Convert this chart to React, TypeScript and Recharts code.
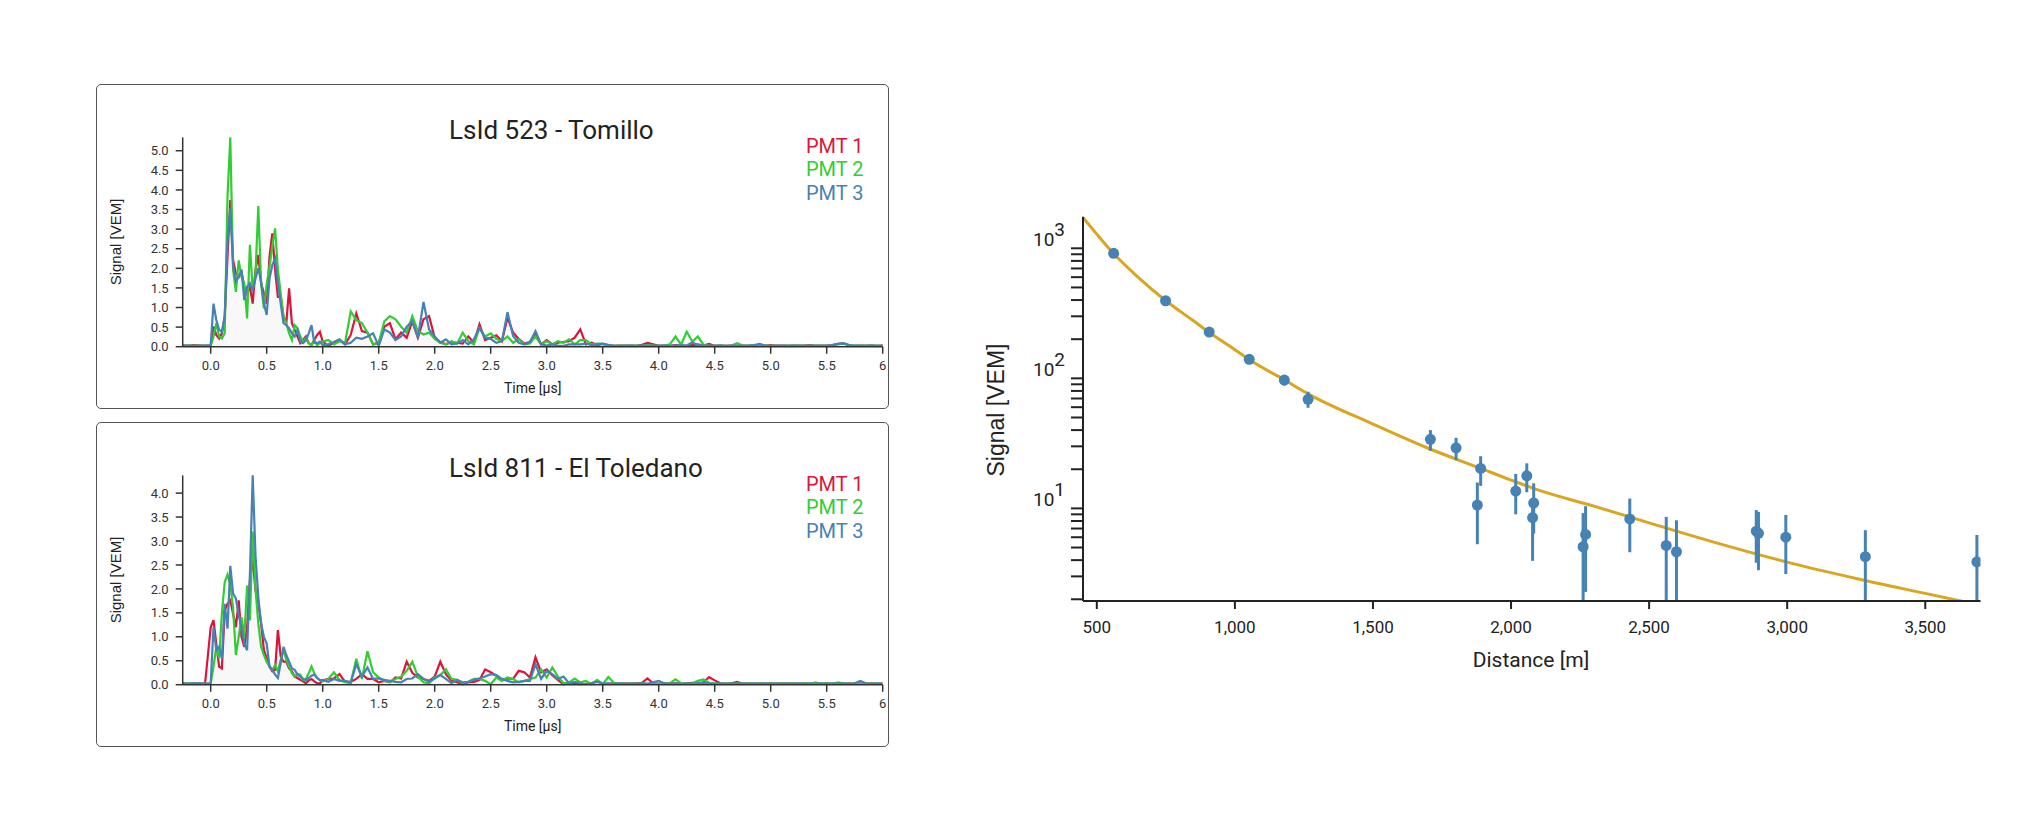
import { ComposedChart, Area, Line, Scatter, ErrorBar, XAxis, YAxis } from 'recharts';

// Colours of the three PMTs and of the LDF fit
const PMT_COLORS = ['#dc143c', '#32cd32', '#4682b4'];
const PMT_NAMES = ['PMT 1', 'PMT 2', 'PMT 3'];
const FIT_COLOR = '#daa520';
const POINT_COLOR = '#4682b4';

// Trace sample times [µs]
const preTimes = [-0.25, -0.2, -0.15, -0.1, -0.05, 0];
const fastTimes = [
  0.025, 0.05, 0.075, 0.1, 0.125, 0.15, 0.175, 0.2, 0.225, 0.25,
  0.275, 0.3, 0.325, 0.35, 0.375, 0.4, 0.425, 0.45, 0.475, 0.5,
  0.525, 0.55, 0.575, 0.6, 0.625, 0.65, 0.675, 0.7, 0.725, 0.75,
  0.775, 0.8, 0.825, 0.85, 0.875, 0.9, 0.925, 0.95, 0.975, 1.0,
];
const slowTimes = [
  1.05, 1.1, 1.15, 1.2, 1.25, 1.3, 1.35, 1.4, 1.45, 1.5,
  1.55, 1.6, 1.65, 1.7, 1.75, 1.8, 1.85, 1.9, 1.95, 2.0,
  2.05, 2.1, 2.15, 2.2, 2.25, 2.3, 2.35, 2.4, 2.45, 2.5,
  2.55, 2.6, 2.65, 2.7, 2.75, 2.8, 2.85, 2.9, 2.95, 3.0,
  3.05, 3.1, 3.15, 3.2, 3.25, 3.3, 3.35, 3.4, 3.45, 3.5,
];
const tailTimes = [
  3.55, 3.6, 3.65, 3.7, 3.75, 3.8, 3.85, 3.9, 3.95, 4.0,
  4.05, 4.1, 4.15, 4.2, 4.25, 4.3, 4.35, 4.4, 4.45, 4.5,
  4.55, 4.6, 4.65, 4.7, 4.75, 4.8, 4.85, 4.9, 4.95, 5.0,
  5.05, 5.1, 5.15, 5.2, 5.25, 5.3, 5.35, 5.4, 5.45, 5.5,
  5.55, 5.6, 5.65, 5.7, 5.75, 5.8, 5.85, 5.9, 5.95, 6.0,
];
const traceTimes = [...preTimes, ...fastTimes, ...slowTimes, ...tailTimes];

const timeTicks = [0, 0.5, 1, 1.5, 2, 2.5, 3, 3.5, 4, 4.5, 5, 5.5, 6];
const tomilloTicks = [0, 0.5, 1, 1.5, 2, 2.5, 3, 3.5, 4, 4.5, 5];
const toledanoTicks = [0, 0.5, 1, 1.5, 2, 2.5, 3, 3.5, 4];

// LsId 523 - Tomillo, signal [VEM]
const tomilloPmt1 = [
  0.03, 0.02, 0.04, 0.03, 0.02, 0.02,
  0.51, 0.3, 0.21, 0.34, 0.77, 2.3, 3.74, 2.2, 1.87, 1.78,
  1.91, 1.53, 1.36, 1.53, 1.1, 1.96, 2.34, 1.62, 1.36, 1.1,
  2.3, 2.89, 1.96, 1.27, 1.27, 0.77, 0.6, 1.49, 0.6, 0.43,
  0.26, 0.09, 0.17, 0.26, 0.09, 0.04, 0.17, 0.3, 0.38, 0.13,
  0.02, 0.1, 0.17, 0.06, 0.3, 0.85, 0.4, 0.36, 0.06, 0.1,
  0.51, 0.6, 0.19, 0.36, 0.23, 0.65, 0.23, 0.7, 0.78, 0.23,
  0.12, 0.06, 0.12, 0.1, 0.08, 0.26, 0.1, 0.57, 0.17, 0.23,
  0.29, 0.14, 0.74, 0.36, 0.2, 0.08, 0.12, 0.31, 0.06, 0.17,
  0.06, 0.1, 0.12, 0.14, 0.23, 0.44, 0.06, 0.1, 0.04, 0.07,
  0.03, 0.02, 0.03, 0.02, 0.03, 0.02, 0.05, 0.1, 0.06, 0.02,
  0.03, 0.02, 0.04, 0.03, 0.02, 0.04, 0.06, 0.03, 0.07, 0.02,
  0.03, 0.02, 0.03, 0.02, 0.03, 0.02, 0.03, 0.02, 0.03, 0.04,
  0.02, 0.03, 0.02, 0.03, 0.02, 0.03, 0.04, 0.02, 0.03, 0.02,
  0.04, 0.07, 0.08, 0.03, 0.02, 0.03, 0.02, 0.03, 0.02, 0.03,
];
const tomilloPmt2 = [
  0.02, 0.03, 0.02, 0.03, 0.02, 0.02,
  0.26, 0.6, 0.26, 0.21, 0.34, 3.83, 5.34, 1.96, 1.4, 2.2,
  1.78, 1.62, 0.72, 2.6, 1.45, 1.87, 3.59, 1.62, 0.98, 1.6,
  2.04, 2.55, 3.02, 1.96, 1.36, 0.77, 0.6, 0.34, 0.17, 0.55,
  0.47, 0.26, 0.13, 0.21, 0.09, 0.04, 0.17, 0.04, 0.09, 0.13,
  0.17, 0.06, 0.14, 0.1, 0.9, 0.68, 0.6, 0.36, 0.06, 0.1,
  0.65, 0.78, 0.7, 0.51, 0.36, 0.78, 0.4, 0.31, 0.36, 0.2,
  0.1, 0.06, 0.14, 0.08, 0.36, 0.14, 0.06, 0.48, 0.26, 0.34,
  0.2, 0.14, 0.26, 0.1, 0.19, 0.06, 0.08, 0.26, 0.06, 0.14,
  0.06, 0.14, 0.1, 0.19, 0.06, 0.17, 0.17, 0.06, 0.08, 0.07,
  0.03, 0.02, 0.03, 0.03, 0.02, 0.03, 0.02, 0.04, 0.03, 0.02,
  0.03, 0.06, 0.26, 0.05, 0.38, 0.13, 0.26, 0.05, 0.03, 0.02,
  0.03, 0.02, 0.03, 0.09, 0.03, 0.02, 0.03, 0.02, 0.03, 0.02,
  0.03, 0.02, 0.03, 0.02, 0.03, 0.02, 0.03, 0.02, 0.03, 0.02,
  0.03, 0.06, 0.08, 0.04, 0.02, 0.03, 0.02, 0.03, 0.02, 0.03,
];
const tomilloPmt3 = [
  0.03, 0.03, 0.02, 0.03, 0.03, 0.04,
  1.1, 0.68, 0.43, 0.38, 0.77, 2.7, 3.53, 2.04, 1.66, 1.78,
  1.96, 1.19, 1.53, 1.62, 1.45, 1.74, 2.0, 1.66, 1.1, 0.81,
  1.74, 2.08, 2.25, 1.62, 1.1, 0.6, 0.55, 0.47, 0.34, 0.26,
  0.43, 0.13, 0.09, 0.17, 0.34, 0.55, 0.1, 0.09, 0.13, 0.04,
  0.06, 0.12, 0.19, 0.06, 0.1, 0.23, 0.2, 0.26, 0.34, 0.02,
  0.44, 0.36, 0.17, 0.26, 0.51, 0.65, 0.23, 1.14, 0.44, 0.26,
  0.1, 0.19, 0.06, 0.08, 0.17, 0.06, 0.19, 0.48, 0.23, 0.2,
  0.1, 0.14, 0.88, 0.27, 0.1, 0.06, 0.12, 0.4, 0.06, 0.03,
  0.06, 0.03, 0.02, 0.06, 0.06, 0.06, 0.08, 0.04, 0.06, 0.08,
  0.05, 0.03, 0.02, 0.03, 0.03, 0.02, 0.03, 0.03, 0.02, 0.03,
  0.03, 0.02, 0.03, 0.04, 0.03, 0.11, 0.04, 0.03, 0.02, 0.03,
  0.03, 0.02, 0.03, 0.03, 0.02, 0.03, 0.04, 0.07, 0.03, 0.02,
  0.03, 0.03, 0.02, 0.03, 0.03, 0.02, 0.03, 0.03, 0.02, 0.03,
  0.04, 0.07, 0.09, 0.04, 0.03, 0.02, 0.03, 0.03, 0.02, 0.03,
];

// LsId 811 - El Toledano, signal [VEM]
const toledanoPmt1 = [
  0.03, 0.02, 0.03, 0.02, 0.03, 1.2,
  1.35, 0.86, 0.38, 0.34, 1.55, 1.69, 1.76, 1.48, 1.2, 1.76,
  1.0, 0.79, 1.2, 2.17, 2.62, 1.97, 1.69, 1.28, 0.72, 0.55,
  0.38, 0.28, 0.31, 1.14, 0.59, 0.48, 0.48, 0.34, 0.28, 0.17,
  0.14, 0.1, 0.07, 0.03, 0.09, 0.12, 0.07, 0.03, 0.03, 0.09,
  0.12, 0.13, 0.22, 0.06, 0.06, 0.12, 0.22, 0.12, 0.12, 0.05,
  0.08, 0.05, 0.15, 0.13, 0.48, 0.25, 0.15, 0.12, 0.08, 0.17,
  0.48, 0.22, 0.08, 0.05, 0.01, 0.05, 0.06, 0.1, 0.32, 0.26,
  0.19, 0.1, 0.13, 0.12, 0.29, 0.26, 0.15, 0.57, 0.26, 0.32,
  0.2, 0.1, 0.01, 0.03, 0.03, 0.01, 0.02, 0.03, 0.08, 0.01,
  0.02, 0.03, 0.02, 0.03, 0.02, 0.03, 0.04, 0.13, 0.03, 0.02,
  0.03, 0.02, 0.03, 0.02, 0.03, 0.04, 0.03, 0.05, 0.16, 0.09,
  0.03, 0.02, 0.03, 0.06, 0.02, 0.03, 0.02, 0.03, 0.02, 0.03,
  0.02, 0.03, 0.02, 0.03, 0.02, 0.03, 0.02, 0.03, 0.02, 0.03,
  0.02, 0.03, 0.02, 0.03, 0.02, 0.03, 0.02, 0.03, 0.02, 0.03,
];
const toledanoPmt2 = [
  0.03, 0.03, 0.02, 0.03, 0.02, 0.03,
  0.38, 0.79, 0.55, 1.5, 2.14, 2.3, 2.1, 1.6, 0.62, 1.0,
  1.41, 1.0, 2.07, 1.34, 3.2, 2.0, 1.28, 0.79, 0.62, 0.48,
  0.38, 0.31, 0.41, 0.28, 0.52, 0.72, 0.52, 0.38, 0.24, 0.17,
  0.23, 0.21, 0.1, 0.12, 0.24, 0.38, 0.24, 0.14, 0.1, 0.07,
  0.12, 0.26, 0.1, 0.05, 0.03, 0.54, 0.12, 0.7, 0.26, 0.15,
  0.08, 0.06, 0.12, 0.17, 0.29, 0.48, 0.17, 0.05, 0.03, 0.15,
  0.2, 0.32, 0.12, 0.1, 0.03, 0.06, 0.12, 0.12, 0.08, 0.01,
  0.15, 0.08, 0.15, 0.12, 0.05, 0.08, 0.12, 0.15, 0.32, 0.15,
  0.36, 0.17, 0.03, 0.05, 0.13, 0.05, 0.08, 0.01, 0.1, 0.01,
  0.16, 0.04, 0.03, 0.02, 0.03, 0.02, 0.03, 0.02, 0.03, 0.02,
  0.03, 0.03, 0.11, 0.03, 0.02, 0.03, 0.08, 0.11, 0.04, 0.03,
  0.02, 0.03, 0.02, 0.03, 0.02, 0.03, 0.02, 0.03, 0.02, 0.03,
  0.02, 0.03, 0.02, 0.03, 0.02, 0.03, 0.02, 0.05, 0.02, 0.03,
  0.02, 0.05, 0.03, 0.02, 0.03, 0.02, 0.03, 0.02, 0.03, 0.02,
];
const toledanoPmt3 = [
  0.03, 0.02, 0.03, 0.03, 0.02, 0.03,
  1.2, 0.72, 0.79, 0.55, 1.69, 1.17, 2.48, 1.9, 1.8, 1.45,
  1.2, 0.86, 0.72, 2.3, 4.37, 2.7, 1.83, 1.28, 1.0, 0.86,
  0.38, 0.31, 0.21, 0.14, 0.45, 0.79, 0.62, 0.48, 0.34, 0.31,
  0.21, 0.17, 0.12, 0.1, 0.14, 0.19, 0.21, 0.14, 0.09, 0.1,
  0.06, 0.12, 0.08, 0.08, 0.05, 0.43, 0.17, 0.36, 0.12, 0.13,
  0.1, 0.08, 0.06, 0.05, 0.12, 0.13, 0.22, 0.12, 0.06, 0.13,
  0.2, 0.12, 0.03, 0.1, 0.05, 0.06, 0.1, 0.13, 0.17, 0.22,
  0.2, 0.12, 0.08, 0.05, 0.06, 0.08, 0.08, 0.43, 0.12, 0.29,
  0.22, 0.12, 0.17, 0.03, 0.06, 0.03, 0.01, 0.03, 0.06, 0.03,
  0.03, 0.02, 0.03, 0.02, 0.03, 0.02, 0.03, 0.02, 0.05, 0.08,
  0.03, 0.02, 0.03, 0.02, 0.03, 0.02, 0.03, 0.04, 0.03, 0.02,
  0.03, 0.02, 0.03, 0.02, 0.03, 0.02, 0.03, 0.02, 0.03, 0.02,
  0.03, 0.02, 0.03, 0.02, 0.03, 0.02, 0.03, 0.02, 0.03, 0.02,
  0.03, 0.02, 0.03, 0.02, 0.03, 0.08, 0.03, 0.02, 0.03, 0.02,
];

// Lateral distribution: station signals with errors
const ldfDistance = [561, 749, 907, 1052, 1179, 1265, 1708, 1801, 1878, 1890, 2017, 2057, 2078, 2082, 2261, 2270, 2430, 2562, 2599, 2888, 2896, 2995, 3283, 3687];
const ldfSignal = [915, 395, 227, 140, 97, 69, 34, 29.2, 10.6, 20.3, 13.6, 17.8, 8.5, 11.0, 5.07, 6.3, 8.3, 5.19, 4.64, 6.68, 6.43, 6.0, 4.25, 3.88];
const ldfErrLow = [20, 10, 6, 5, 9, 9.6, 6.3, 5.7, 5.3, 5.4, 4.6, 4.5, 4.55, 4.6, 4.5, 4.02, 3.7, 4.6, 4.1, 2.86, 3.08, 2.87, 3.7, 3.4];
const ldfErrHigh = [20, 10, 6, 5, 7, 9.9, 6, 5.7, 5.2, 4.9, 4.8, 4.4, 3.5, 4.6, 4.13, 4.1, 3.6, 3.41, 3.46, 3.02, 2.97, 2.9, 2.55, 2.36];

// LDF fit
const fitDistance = [450, 500, 560, 650, 750, 850, 905, 1000, 1050, 1180, 1265, 1500, 1700, 1890, 2000, 2100, 2300, 2500, 2750, 3000, 3250, 3500, 3700];
const fitSignal = [1730, 1285, 915, 598, 395, 277, 227, 166, 140, 97, 76, 44.5, 29, 20.3, 16.5, 13.8, 10.4, 7.74, 5.38, 3.86, 2.89, 2.22, 1.8];

const distanceTicks = [500, 1000, 1500, 2000, 2500, 3000, 3500];
const signalTicks = [
  2, 3, 4, 5, 6, 7, 8, 9, 10,
  20, 30, 40, 50, 60, 70, 80, 90, 100,
  200, 300, 400, 500, 600, 700, 800, 900, 1000,
];
const SIGNAL_MIN = 1.94;
const SIGNAL_MAX = 1750;

const TICK_FONT = 'Roboto, "Liberation Sans", Arial, sans-serif';
const LABEL_FONT = '"Liberation Sans", Arial, sans-serif';
const BOX_LEFT = 88;
const BOX_W = 793;
const BOX_H = 325;

function TraceBox({ top, title, series, yTicks }: { top: number; title: string; series: number[][]; yTicks: number[] }) {
  const rows = traceTimes.map((t, i) => ({ t, pmt1: series[0][i], pmt2: series[1][i], pmt3: series[2][i] }));
  return (
    <>
      <div
        style={{
          position: 'absolute', left: BOX_LEFT, top, width: BOX_W - 2, height: BOX_H - 2,
          border: '1px solid #555', borderRadius: 5,
        }}
      />
      <div style={{ position: 'absolute', left: BOX_LEFT, top }}>
        <ComposedChart width={BOX_W} height={BOX_H} data={rows} margin={{ top: 53.4, right: 6.3, bottom: 22.3, left: 26.7 }}>
          <XAxis
            dataKey="t"
            type="number"
            domain={[-0.25, 6]}
            allowDataOverflow
            ticks={timeTicks}
            interval={0}
            tickFormatter={(v: number) => (v === 6 ? '6' : v.toFixed(1))}
            height={40}
            tickSize={7}
            tickMargin={7}
            axisLine={{ stroke: '#333', strokeWidth: 1.5 }}
            tickLine={{ stroke: '#333', strokeWidth: 1.5 }}
            tick={{ fill: '#333', fontSize: 13, fontFamily: TICK_FONT }}
          />
          <YAxis
            type="number"
            domain={[0, 'dataMax']}
            ticks={yTicks}
            interval={0}
            tickFormatter={(v: number) => v.toFixed(1)}
            width={60}
            tickSize={7}
            tickMargin={7}
            axisLine={{ stroke: '#333', strokeWidth: 1.5 }}
            tickLine={{ stroke: '#333', strokeWidth: 1.5 }}
            tick={{ fill: '#333', fontSize: 13, fontFamily: TICK_FONT }}
          />
          {['pmt1', 'pmt2', 'pmt3'].map((key, i) => (
            <Area
              key={key}
              dataKey={key}
              type="linear"
              stroke={PMT_COLORS[i]}
              strokeWidth={2.2}
              fill={PMT_COLORS[i]}
              fillOpacity={0.015}
              dot={false}
              activeDot={false}
              isAnimationActive={false}
            />
          ))}
        </ComposedChart>
      </div>
      <svg style={{ position: 'absolute', left: BOX_LEFT, top, overflow: 'visible' }} width={BOX_W} height={BOX_H}>
        <text x={353} y={54.5} fontSize={26} fontFamily={TICK_FONT} fill="#222">{title}</text>
        {PMT_NAMES.map((name, i) => (
          <text key={name} x={710} y={68.7 + i * 23.5} fontSize={20} fontFamily={TICK_FONT} fill={PMT_COLORS[i]}>
            {name}
          </text>
        ))}
        <text x={436.7} y={309} textAnchor="middle" fontSize={14} fontFamily={TICK_FONT} fill="#222">Time [µs]</text>
        <text
          x={19}
          y={158}
          transform="rotate(-90 19 158)"
          textAnchor="middle"
          dominantBaseline="central"
          fontSize={15}
          fontFamily={LABEL_FONT}
          fill="#222"
        >
          Signal [VEM]
        </text>
      </svg>
    </>
  );
}

function LogTick(props: any) {
  const { x, y, payload } = props;
  const v = payload.value as number;
  const exp = Math.round(Math.log10(v));
  if (Math.abs(v - Math.pow(10, exp)) > 1e-6) return <g />;
  return (
    <text x={x - 2} y={y - 2} textAnchor="end" fontSize={19} fontFamily={TICK_FONT} fill="#222">
      10<tspan dy={-10}>{exp}</tspan>
    </text>
  );
}

function LdfChart() {
  const fitRows = fitDistance.map((d, i) => ({ d, s: fitSignal[i] }));
  // error bars stop at the bottom of the axis, as in the plot
  const pointRows = ldfDistance.map((d, i) => ({
    d,
    s: ldfSignal[i],
    err: [Math.min(ldfErrLow[i], ldfSignal[i] - SIGNAL_MIN), ldfErrHigh[i]],
  }));
  return (
    <>
      <div style={{ position: 'absolute', left: 952, top: 152 }}>
        <ComposedChart width={1050} height={520} margin={{ top: 56.7, right: 29.5, bottom: 29, left: 43 }}>
          <XAxis
            dataKey="d"
            type="number"
            domain={[450, 3700]}
            allowDataOverflow
            ticks={distanceTicks}
            interval={0}
            tickFormatter={(v: number) => v.toLocaleString('en-US')}
            height={50}
            tickSize={8}
            tickMargin={12}
            axisLine={{ stroke: '#222', strokeWidth: 2 }}
            tickLine={{ stroke: '#222', strokeWidth: 2 }}
            tick={{ fill: '#222', fontSize: 17, fontFamily: TICK_FONT }}
          />
          <YAxis
            dataKey="s"
            type="number"
            scale="log"
            domain={[SIGNAL_MIN, SIGNAL_MAX]}
            allowDataOverflow
            ticks={signalTicks}
            interval={0}
            width={80}
            tickSize={12}
            tickMargin={4}
            axisLine={{ stroke: '#222', strokeWidth: 2 }}
            tickLine={{ stroke: '#222', strokeWidth: 2 }}
            tick={<LogTick />}
          />
          <Line
            data={fitRows}
            dataKey="s"
            type="monotone"
            stroke={FIT_COLOR}
            strokeWidth={3}
            dot={false}
            activeDot={false}
            isAnimationActive={false}
          />
          <Scatter
            data={pointRows}
            dataKey="s"
            fill={POINT_COLOR}
            isAnimationActive={false}
            shape={(p: any) => <circle cx={p.cx} cy={p.cy} r={5.5} fill={POINT_COLOR} />}
          >
            <ErrorBar dataKey="err" direction="y" width={0} stroke={POINT_COLOR} strokeWidth={3} isAnimationActive={false} />
          </Scatter>
        </ComposedChart>
      </div>
      <svg style={{ position: 'absolute', left: 952, top: 152, overflow: 'visible' }} width={1050} height={520}>
        <text x={571} y={507} textAnchor="middle" fontSize={21} fontFamily={TICK_FONT} fill="#222">Distance [m]</text>
        <text
          x={36}
          y={250}
          transform="rotate(-90 36 250)"
          textAnchor="middle"
          dominantBaseline="central"
          fontSize={23}
          fontFamily={LABEL_FONT}
          fill="#222"
        >
          Signal [VEM]
        </text>
      </svg>
    </>
  );
}

export default function App() {
  return (
    <div style={{ position: 'relative', width: 2014, height: 804, background: '#fff' }}>
      <TraceBox top={76} title="LsId 523 - Tomillo" series={[tomilloPmt1, tomilloPmt2, tomilloPmt3]} yTicks={tomilloTicks} />
      <TraceBox top={414} title="LsId 811 - El Toledano" series={[toledanoPmt1, toledanoPmt2, toledanoPmt3]} yTicks={toledanoTicks} />
      <LdfChart />
    </div>
  );
}
